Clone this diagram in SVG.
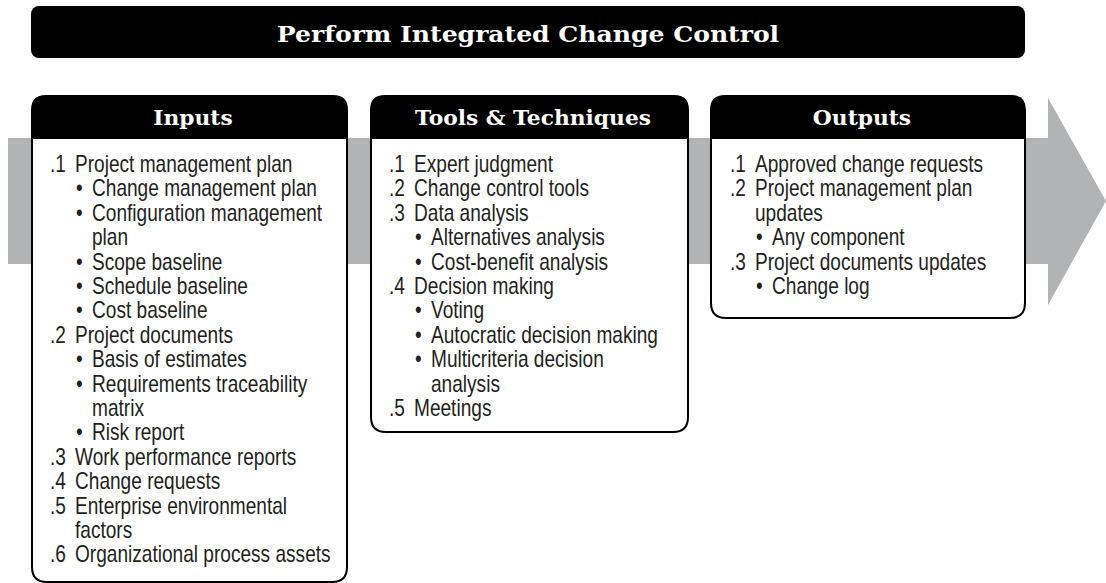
<svg xmlns="http://www.w3.org/2000/svg" width="1106" height="583" viewBox="0 0 1106 583">
<style>
.band{fill:#B1B3B5;}
.hdr{fill:#000;}
.box{fill:#fff;stroke:#000;stroke-width:2;}
.ttl{font-family:"DejaVu Serif","Liberation Serif",serif;font-weight:bold;fill:#fff;text-anchor:middle;}
.t{font-family:"Liberation Sans",Arial,sans-serif;font-size:23px;fill:#231F20;}
</style>
<rect width="1106" height="583" fill="#fff"/>
<g id="connectors">
<polygon class="band" points="8,138 1048,138 1048,98 1106,201 1048,305 1048,264 8,264"/>
</g>
<g id="title">
<rect class="hdr" x="31" y="6" width="994" height="52" rx="8"/>
<text class="ttl" transform="scale(1.14,1)" x="463.16" y="42" font-size="22">Perform Integrated Change Control</text>
</g>
<g id="inputs">
<path class="box" d="M32,138 H347 V567 Q347,582 332,582 H47 Q32,582 32,567 Z"/>
<path class="hdr" d="M31,138 V110 Q31,95 46,95 H333 Q348,95 348,110 V138 Z"/>
<text class="ttl" transform="scale(1.09,1)" x="177.06" y="125" font-size="20">Inputs</text>
<g class="t" transform="scale(0.83,1)">
<text x="60.24" y="172">.1</text><text x="90.36" y="172">Project management plan</text>
<text x="91.57" y="196.4">•</text><text x="110.84" y="196.4">Change management plan</text>
<text x="91.57" y="220.8">•</text><text x="110.84" y="220.8">Configuration management</text>
<text x="110.84" y="245.2">plan</text>
<text x="91.57" y="269.6">•</text><text x="110.84" y="269.6">Scope baseline</text>
<text x="91.57" y="294">•</text><text x="110.84" y="294">Schedule baseline</text>
<text x="91.57" y="318.4">•</text><text x="110.84" y="318.4">Cost baseline</text>
<text x="60.24" y="342.8">.2</text><text x="90.36" y="342.8">Project documents</text>
<text x="91.57" y="367.2">•</text><text x="110.84" y="367.2">Basis of estimates</text>
<text x="91.57" y="391.6">•</text><text x="110.84" y="391.6">Requirements traceability</text>
<text x="110.84" y="416">matrix</text>
<text x="91.57" y="440.4">•</text><text x="110.84" y="440.4">Risk report</text>
<text x="60.24" y="464.8">.3</text><text x="90.36" y="464.8">Work performance reports</text>
<text x="60.24" y="489.2">.4</text><text x="90.36" y="489.2">Change requests</text>
<text x="60.24" y="513.6">.5</text><text x="90.36" y="513.6">Enterprise environmental</text>
<text x="90.36" y="538">factors</text>
<text x="60.24" y="562.4">.6</text><text x="90.36" y="562.4">Organizational process assets</text>
</g>
</g>
<g id="tools">
<path class="box" d="M371,138 H688 V417 Q688,432 673,432 H386 Q371,432 371,417 Z"/>
<path class="hdr" d="M370,138 V110 Q370,95 385,95 H674 Q689,95 689,110 V138 Z"/>
<text class="ttl" transform="scale(1.09,1)" x="489" y="125" font-size="20">Tools &amp; Techniques</text>
<g class="t" transform="scale(0.83,1)">
<text x="468.67" y="172">.1</text><text x="498.8" y="172">Expert judgment</text>
<text x="468.67" y="196.4">.2</text><text x="498.8" y="196.4">Change control tools</text>
<text x="468.67" y="220.8">.3</text><text x="498.8" y="220.8">Data analysis</text>
<text x="500" y="245.2">•</text><text x="519.28" y="245.2">Alternatives analysis</text>
<text x="500" y="269.6">•</text><text x="519.28" y="269.6">Cost-benefit analysis</text>
<text x="468.67" y="294">.4</text><text x="498.8" y="294">Decision making</text>
<text x="500" y="318.4">•</text><text x="519.28" y="318.4">Voting</text>
<text x="500" y="342.8">•</text><text x="519.28" y="342.8">Autocratic decision making</text>
<text x="500" y="367.2">•</text><text x="519.28" y="367.2">Multicriteria decision</text>
<text x="519.28" y="391.6">analysis</text>
<text x="468.67" y="416">.5</text><text x="498.8" y="416">Meetings</text>
</g>
</g>
<g id="outputs">
<path class="box" d="M711,138 H1025 V303 Q1025,318 1010,318 H726 Q711,318 711,303 Z"/>
<path class="hdr" d="M710,138 V110 Q710,95 725,95 H1011 Q1026,95 1026,110 V138 Z"/>
<text class="ttl" transform="scale(1.09,1)" x="790.83" y="125" font-size="20">Outputs</text>
<g class="t" transform="scale(0.83,1)">
<text x="879.52" y="172">.1</text><text x="909.64" y="172">Approved change requests</text>
<text x="879.52" y="196.4">.2</text><text x="909.64" y="196.4">Project management plan</text>
<text x="909.64" y="220.8">updates</text>
<text x="910.84" y="245.2">•</text><text x="930.12" y="245.2">Any component</text>
<text x="879.52" y="269.6">.3</text><text x="909.64" y="269.6">Project documents updates</text>
<text x="910.84" y="294">•</text><text x="930.12" y="294">Change log</text>
</g>
</g>
</svg>
